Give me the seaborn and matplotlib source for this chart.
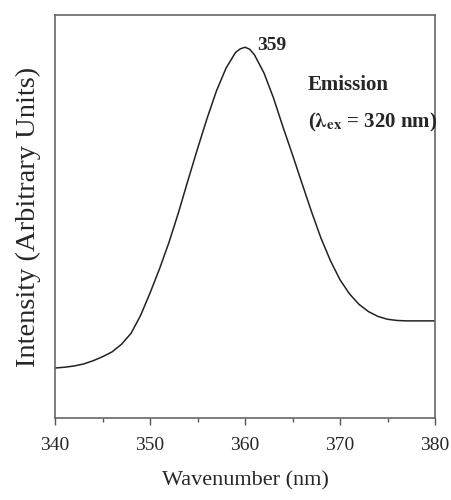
import numpy as np
import pandas as pd
import seaborn as sns
from matplotlib import pyplot as plt
from matplotlib.ticker import MultipleLocator

# emission spectrum (intensity in arbitrary units, 0-100 scale)
wavelength = [340, 341, 342, 343, 344, 345, 346, 347, 348, 349, 350, 351, 352, 353, 354,
              355, 356, 357, 358, 359, 359.5, 360, 360.5, 361, 362, 363, 364, 365, 366,
              367, 368, 369, 370, 371, 372, 373, 374, 375, 376, 377, 378, 379, 380]
intensity = [12.4, 12.6, 12.9, 13.4, 14.2, 15.2, 16.4, 18.3, 21.0, 25.4, 31.0, 37.0, 43.6, 51.0, 59.0,
             66.8, 74.3, 81.2, 86.8, 90.7, 91.6, 92.0, 91.5, 90.1, 85.6, 79.4, 72.2, 65.3, 58.2,
             51.2, 44.6, 39.0, 34.3, 30.8, 28.2, 26.4, 25.2, 24.5, 24.2, 24.1, 24.1, 24.1, 24.1]
x_ticks = [340, 350, 360, 370, 380]
peak_label = "359"

df = pd.DataFrame({"Wavenumber": wavelength, "Intensity": intensity})

sns.set_theme(style="white")
plt.rcParams['font.family'] = ['Liberation Serif', 'DejaVu Serif']
plt.rcParams['mathtext.fontset'] = 'stix'

fig = plt.figure(figsize=(4.52, 5), dpi=100)
ax = fig.add_axes([0.1217, 0.164, 0.8407, 0.806])
sns.lineplot(data=df, x="Wavenumber", y="Intensity", ax=ax, color="#222222", linewidth=1.1)

ax.set_xlim(340, 380)
ax.set_ylim(0, 100)
ax.set_xticks(x_ticks)
ax.xaxis.set_minor_locator(MultipleLocator(5))
ax.set_yticks([])
ax.tick_params(axis="x", which="major", direction="out", length=5, width=1,
               color="#555555", labelsize=14, bottom=True, pad=9)
ax.tick_params(axis="x", which="minor", direction="out", length=3, width=1,
               color="#555555", bottom=True)
for s in ax.spines.values():
    s.set_color("#666666")
    s.set_linewidth(1.2)

ax.set_xlabel("Wavenumber (nm)", fontsize=16, labelpad=12)
ax.set_ylabel("Intensity (Arbitrary Units)", fontsize=20.5, labelpad=10)

ax.text(361.3, 91.3, peak_label, fontsize=14, fontweight="bold", va="baseline")
ax.text(366.6, 81.4, "Emission", fontsize=15, fontweight="bold", va="baseline")
ax.text(366.6, 72.0, r"($\mathbf{\lambda}_{\mathbf{ex}}$ = 320 nm)", fontsize=15,
        fontweight="bold", va="baseline")

plt.savefig("out.png", dpi=100)
